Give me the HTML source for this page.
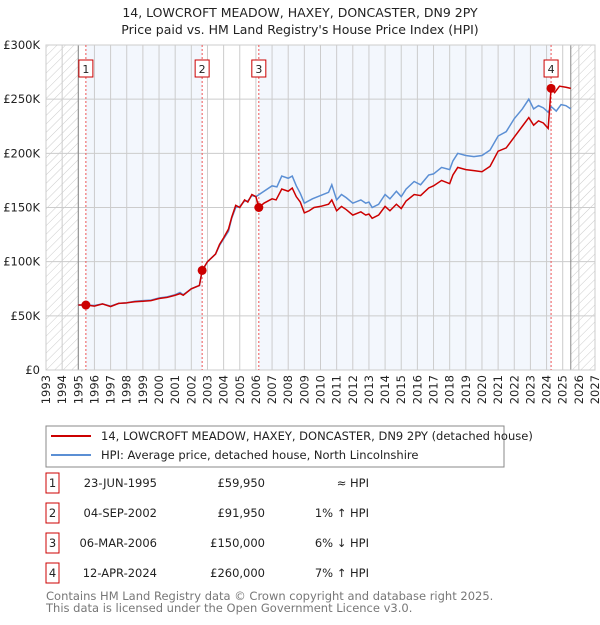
<!DOCTYPE html>
<html><head><meta charset="utf-8"><style>
body{margin:0;background:#fff;font-family:"Liberation Sans","DejaVu Sans",sans-serif;}
svg text{font-family:"DejaVu Sans","Liberation Sans",sans-serif;}
</style></head><body>
<svg id="c" width="600" height="620" viewBox="0 0 600 620" xmlns="http://www.w3.org/2000/svg">
<defs><pattern id="hatch" width="6" height="6" patternUnits="userSpaceOnUse" patternTransform="rotate(45)"><line x1="0" y1="0" x2="0" y2="6" stroke="#ccc" stroke-width="1"/></pattern></defs>
<text x="300" y="17" text-anchor="middle" font-size="12.5" fill="#222">14, LOWCROFT MEADOW, HAXEY, DONCASTER, DN9 2PY</text>
<text x="300" y="34" text-anchor="middle" font-size="12.5" fill="#222">Price paid vs. HM Land Registry's House Price Index (HPI)</text>
<g id="plot"></g>
<g>
<rect x="46" y="426" width="458" height="41" fill="#fff" stroke="#888"/>
<line x1="51" y1="436" x2="91" y2="436" stroke="#cc0000" stroke-width="2"/>
<text x="101" y="440" font-size="11.5" fill="#222">14, LOWCROFT MEADOW, HAXEY, DONCASTER, DN9 2PY (detached house)</text>
<line x1="51" y1="455" x2="91" y2="455" stroke="#5b8fd4" stroke-width="2"/>
<text x="101" y="459" font-size="11.5" fill="#222">HPI: Average price, detached house, North Lincolnshire</text>
</g>
<g id="tbl" font-size="11.5" fill="#222"></g>
<text x="46" y="600" font-size="11.5" fill="#777">Contains HM Land Registry data © Crown copyright and database right 2025.</text>
<text x="46" y="612" font-size="11.5" fill="#777">This data is licensed under the Open Government Licence v3.0.</text>
</svg>
<script>
const yearTicks=[1993,1994,1995,1996,1997,1998,1999,2000,2001,2002,2003,2004,2005,2006,2007,2008,2009,2010,2011,2012,2013,2014,2015,2016,2017,2018,2019,2020,2021,2022,2023,2024,2025,2026,2027];
const priceTicks=[0,50000,100000,150000,200000,250000,300000];
const priceTickLabels=["£0","£50K","£100K","£150K","£200K","£250K","£300K"];
const saleDates=[1995.47,2002.67,2006.18,2024.28];
const salePrices=[59950,91950,150000,260000];
const saleLabels=["1","2","3","4"];
const saleDateText=["23-JUN-1995","04-SEP-2002","06-MAR-2006","12-APR-2024"];
const salePriceText=["£59,950","£91,950","£150,000","£260,000"];
const saleHpiText=["≈ HPI","1% ↑ HPI","6% ↓ HPI","7% ↑ HPI"];
const redT=[1995.0,1995.47,1996,1996.5,1997,1997.5,1998,1998.5,1999,1999.5,2000,2000.5,2001,2001.3,2001.5,2002,2002.5,2002.67,2003,2003.5,2003.75,2004,2004.3,2004.5,2004.75,2005,2005.3,2005.5,2005.75,2006.0,2006.18,2006.5,2007,2007.25,2007.6,2008,2008.25,2008.5,2008.75,2009,2009.3,2009.6,2010,2010.5,2010.7,2011,2011.3,2011.6,2012,2012.5,2012.8,2013,2013.2,2013.6,2014,2014.3,2014.7,2015,2015.3,2015.8,2016.2,2016.7,2017,2017.5,2018,2018.2,2018.5,2019,2019.5,2020,2020.5,2021,2021.5,2022,2022.5,2022.9,2023.2,2023.5,2023.8,2024.1,2024.28,2024.5,2024.8,2025.2,2025.5];
const redV=[60,59.95,59,61,58.5,61.5,62,63,63.5,64,66,67,69,70.5,69,75,78,91.95,100,107,116,122,130,141,152,150,157,155,162,160,150,154,158,157,167,165,168,160,155,145,147,150,151,153,157,147,151,148,143,146,143,144,140,143,151,147,153,149,156,162,161,168,170,175,172,180,187,185,184,183,188,202,205,215,225,233,226,230,228,223,260,256,262,261,260];
const hpiT=[1995.0,1995.5,1996,1996.5,1997,1997.5,1998,1998.5,1999,1999.5,2000,2000.5,2001,2001.3,2001.5,2002,2002.5,2002.67,2003,2003.5,2003.75,2004,2004.3,2004.5,2004.75,2005,2005.3,2005.5,2005.75,2006,2006.5,2007,2007.3,2007.6,2008,2008.25,2008.5,2008.75,2009,2009.5,2010,2010.5,2010.7,2011,2011.3,2011.6,2012,2012.5,2012.8,2013,2013.2,2013.6,2014,2014.3,2014.7,2015,2015.3,2015.8,2016.2,2016.7,2017,2017.5,2018,2018.2,2018.5,2019,2019.5,2020,2020.5,2021,2021.5,2022,2022.5,2022.9,2023.2,2023.5,2023.8,2024.1,2024.3,2024.6,2024.9,2025.2,2025.5];
const hpiV=[60,60,59.5,61,59,61.5,62,63.5,64,64.5,66.5,67.5,69.5,71.5,69.5,75,78,91,100,107,115,121,128,140,150,151,156,156,161,160,165,170,169,179,177,179,170,163,154,158,161,164,171,157,162,159,154,157,154,155,150,153,162,158,165,160,167,174,171,180,181,187,185,193,200,198,197,198,203,216,220,232,241,250,241,244,242,238,243,239,245,244,241];
const NS="http://www.w3.org/2000/svg";
const L=46,R=595,T=45,B=370;
const xs=y=>L+(y-1993)/(2027-1993)*(R-L);
const ys=v=>B-v/300000*(B-T);
const g=document.getElementById('plot');
function el(tag,attrs,parent){const e=document.createElementNS(NS,tag);for(const k in attrs)e.setAttribute(k,attrs[k]);(parent||g).appendChild(e);return e;}
let e;
e=el('rect',{x:L,y:T,width:R-L,height:B-T,fill:'#fff'});

e=el('rect',{x:xs(saleDates[0]),y:T,width:xs(saleDates[1])-xs(saleDates[0]),height:B-T,fill:'#eef3fc',opacity:0.7});

e=el('rect',{x:xs(saleDates[2]),y:T,width:xs(saleDates[3])-xs(saleDates[2]),height:B-T,fill:'#eef3fc',opacity:0.7});

e=el('rect',{x:L,y:T,width:xs(1995)-L,height:B-T,fill:'url(#hatch)'});

e=el('rect',{x:xs(2025.5),y:T,width:R-xs(2025.5),height:B-T,fill:'url(#hatch)'});

yearTicks.forEach((yr,i)=>{
 e=el('line',{x1:xs(yr),x2:xs(yr),y1:T,y2:B,stroke:'#ccc','stroke-width':1});
 
 const tx=xs(yr)+4;
 e=el('text',{x:0,y:0,transform:`translate(${tx},${B+5}) rotate(-90)`,'text-anchor':'end','font-size':11.5,fill:'#222'});
 e.textContent=yr;
 
});
priceTicks.forEach((p,i)=>{
 e=el('line',{x1:L,x2:R,y1:ys(p),y2:ys(p),stroke:'#ccc','stroke-width':1});
 
 e=el('text',{x:L-6,y:ys(p)+4,'text-anchor':'end','font-size':11.5,fill:'#222'});
 e.textContent=priceTickLabels[i];
 
});
e=el('line',{x1:xs(1995),x2:xs(1995),y1:T,y2:B,stroke:'#888'});

e=el('line',{x1:xs(2025.5),x2:xs(2025.5),y1:T,y2:B,stroke:'#888'});

e=el('rect',{x:L,y:T,width:R-L,height:B-T,fill:'none',stroke:'#ccc'});

saleDates.forEach((d,i)=>{
 e=el('line',{x1:xs(d),x2:xs(d),y1:T,y2:B,stroke:'#e55','stroke-width':1,'stroke-dasharray':'2,2'});
 
});
e=el('polyline',{points:hpiT.map((t,i)=>xs(t)+','+ys(hpiV[i]*1000)).join(' '),fill:'none',stroke:'#5b8fd4','stroke-width':1.5});

e=el('polyline',{points:redT.map((t,i)=>xs(t)+','+ys(redV[i]*1000)).join(' '),fill:'none',stroke:'#cc0000','stroke-width':1.5});

saleDates.forEach((d,i)=>{
 e=el('circle',{cx:xs(d),cy:ys(salePrices[i]),r:4.5,fill:'#cc0000'});
 
 const bx=xs(d)-7;
 e=el('rect',{x:bx,y:60,width:14,height:17,fill:'#fff',stroke:'#cc0000'});
 
 e=el('text',{x:xs(d),y:73,'text-anchor':'middle','font-size':11,fill:'#222'});
 e.textContent=saleLabels[i];
 
});
const tb=document.getElementById('tbl');
saleLabels.forEach((s,i)=>{
 const cy=483+i*30;
 e=el('rect',{x:46,y:cy-10,width:13,height:20,fill:'#fff',stroke:'#cc0000'},tb);
 
 e=el('text',{x:52.5,y:cy+4,'text-anchor':'middle'},tb);e.textContent=s;
 
 e=el('text',{x:157,y:cy+4,'text-anchor':'end'},tb);e.textContent=saleDateText[i];
 
 e=el('text',{x:265,y:cy+4,'text-anchor':'end'},tb);e.textContent=salePriceText[i];
 
 e=el('text',{x:369,y:cy+4,'text-anchor':'end'},tb);e.textContent=saleHpiText[i];
 
});
</script>
</body></html>
